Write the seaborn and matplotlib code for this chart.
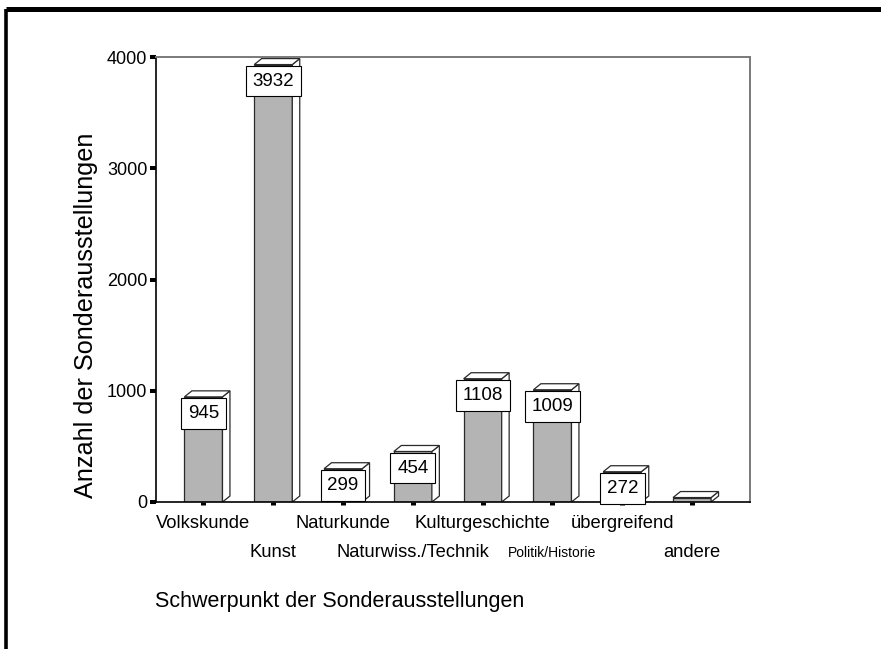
import matplotlib
matplotlib.use("Agg")
import matplotlib.pyplot as plt
import matplotlib.transforms as mtransforms
from matplotlib.patches import Polygon
from matplotlib.lines import Line2D
import seaborn as sns

sns.set_style("white")
plt.rcParams['font.family'] = ['Liberation Sans', 'DejaVu Sans']
plt.rcParams['text.color'] = 'black'
plt.rcParams['axes.labelcolor'] = 'black'
plt.rcParams['xtick.color'] = 'black'
plt.rcParams['ytick.color'] = 'black'

categories = ['Volkskunde', 'Kunst', 'Naturkunde', 'Naturwiss./Technik',
              'Kulturgeschichte', 'Politik/Historie', 'übergreifend', 'andere']
values = [945, 3932, 299, 454, 1108, 1009, 272, 40]
show_label = [True, True, True, True, True, True, True, False]
yticks = [0, 1000, 2000, 3000, 4000]

front = '#b4b4b4'
edge = '#2a2a2a'

fig = plt.figure(figsize=(8.81, 6.49), dpi=100)
ax = fig.add_axes([156 / 881, 1 - 502 / 649, 594 / 881, 445 / 649])

sns.barplot(x=categories, y=values, order=categories, color=front, saturation=1,
            width=0.545, edgecolor=edge, linewidth=0.9, ax=ax, zorder=2)

# pseudo 3d: side and top faces
dx, dy = 0.107, 54
for p in ax.patches[:len(values)]:
    x0, w, h = p.get_x(), p.get_width(), p.get_height()
    side = Polygon([(x0 + w, 0), (x0 + w + dx, dy), (x0 + w + dx, h + dy), (x0 + w, h)],
                   closed=True, fc='white', ec=edge, lw=0.9, zorder=2)
    top = Polygon([(x0, h), (x0 + dx, h + dy), (x0 + w + dx, h + dy), (x0 + w, h)],
                  closed=True, fc='white', ec=edge, lw=0.9, zorder=2)
    ax.add_patch(side)
    ax.add_patch(top)

# value boxes
pad = 0.36
fs = 13.5
for i, (v, s) in enumerate(zip(values, show_label)):
    if not s:
        continue
    ax.annotate(str(v), (i, v), xytext=(0, -pad * fs - 1), textcoords='offset points',
                ha='center', va='top', fontsize=fs, zorder=5,
                bbox=dict(boxstyle='square,pad=%s' % pad, fc='white', ec='black', lw=0.8))

ax.set_xlim(-0.68, 7.83)
ax.set_ylim(0, 4000)
ax.set_yticks(yticks)
ax.set_yticklabels([str(t) for t in yticks], fontsize=13)

ax.tick_params(axis='y', direction='out', length=4.3, width=2.9, color='black', pad=2, left=True)
ax.tick_params(axis='x', direction='out', length=2.2, width=3.6, color='black', pad=7, bottom=True,
               labelsize=13.2)

# alternate tick label rows
shift = mtransforms.ScaledTranslation(0, -0.29, fig.dpi_scale_trans)
for i, lab in enumerate(ax.get_xticklabels()):
    if i % 2 == 1:
        lab.set_transform(lab.get_transform() + shift)
    if lab.get_text() == 'Politik/Historie':
        lab.set_fontsize(10)
        lab.set_transform(lab.get_transform() +
                          mtransforms.ScaledTranslation(0, -0.02, fig.dpi_scale_trans))

for side in ['left', 'bottom']:
    ax.spines[side].set_color('black')
    ax.spines[side].set_linewidth(1.2)
for side in ['top', 'right']:
    ax.spines[side].set_color('#7a7a7a')
    ax.spines[side].set_linewidth(1.4)

ax.set_ylabel('Anzahl der Sonderausstellungen', fontsize=18.2)
ax.yaxis.set_label_coords(-0.098, 0.42)
ax.set_xlabel('Schwerpunkt der Sonderausstellungen', fontsize=15.5, ha='left')
ax.xaxis.set_label_coords(-0.002, -0.2)

# outer frame (top and left)
fig.add_artist(Line2D([5.5 / 881, 1], [1 - 9 / 649, 1 - 9 / 649], lw=3.6, color='black',
                      transform=fig.transFigure, solid_capstyle='butt'))
fig.add_artist(Line2D([5.5 / 881, 5.5 / 881], [1 - 9 / 649, 0], lw=2.6, color='black',
                      transform=fig.transFigure, solid_capstyle='butt'))

fig.savefig('out.png', dpi=100, facecolor='white')
